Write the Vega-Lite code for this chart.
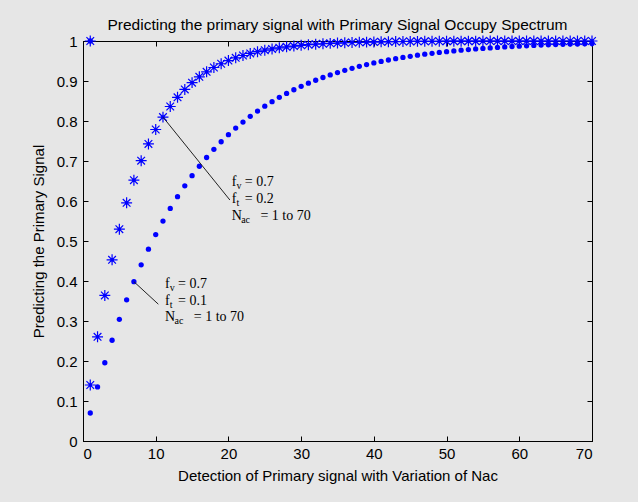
{
  "$schema": "https://vega.github.io/schema/vega-lite/v6.json",
  "width": 509,
  "height": 400,
  "autosize": {"type": "none"},
  "padding": {"left": 83, "top": 41, "right": 46, "bottom": 61},
  "background": "#e6e6e6",
  "title": {"text": "Predicting the primary signal with Primary Signal Occupy Spectrum", "font": "Liberation Sans", "fontSize": 15.5, "fontWeight": "normal", "color": "#000000", "anchor": "middle", "offset": 0},
  "config": {
    "view": {"stroke": "#000000", "strokeWidth": 1, "fill": "#e6e6e6"},
    "axis": {"domainColor": "#000000", "tickColor": "#000000", "labelColor": "#000000", "titleColor": "#000000", "labelFont": "Liberation Sans", "titleFont": "Liberation Sans", "labelFontSize": 15, "titleFontSize": 15, "titleFontWeight": "normal", "grid": false, "tickSize": -5, "domainWidth": 1, "tickWidth": 1}
  },
  "datasets": {
    "star": [
      {"N": 1, "P": 1},
      {"N": 1, "P": 0.14}, {"N": 2, "P": 0.2604}, {"N": 3, "P": 0.3639}, {"N": 4, "P": 0.453}, {"N": 5, "P": 0.5296},
      {"N": 6, "P": 0.5954}, {"N": 7, "P": 0.6521}, {"N": 8, "P": 0.7008}, {"N": 9, "P": 0.7427}, {"N": 10, "P": 0.7787},
      {"N": 11, "P": 0.8097}, {"N": 12, "P": 0.8363}, {"N": 13, "P": 0.8592}, {"N": 14, "P": 0.8789}, {"N": 15, "P": 0.8959},
      {"N": 16, "P": 0.9105}, {"N": 17, "P": 0.923}, {"N": 18, "P": 0.9338}, {"N": 19, "P": 0.9431}, {"N": 20, "P": 0.951},
      {"N": 21, "P": 0.9579}, {"N": 22, "P": 0.9638}, {"N": 23, "P": 0.9689}, {"N": 24, "P": 0.9732}, {"N": 25, "P": 0.977},
      {"N": 26, "P": 0.9802}, {"N": 27, "P": 0.983}, {"N": 28, "P": 0.9853}, {"N": 29, "P": 0.9874}, {"N": 30, "P": 0.9892},
      {"N": 31, "P": 0.9907}, {"N": 32, "P": 0.992}, {"N": 33, "P": 0.9931}, {"N": 34, "P": 0.9941}, {"N": 35, "P": 0.9949},
      {"N": 36, "P": 0.9956}, {"N": 37, "P": 0.9962}, {"N": 38, "P": 0.9968}, {"N": 39, "P": 0.9972}, {"N": 40, "P": 0.9976},
      {"N": 41, "P": 0.998}, {"N": 42, "P": 0.9983}, {"N": 43, "P": 0.9985}, {"N": 44, "P": 0.9987}, {"N": 45, "P": 0.9989},
      {"N": 46, "P": 0.9991}, {"N": 47, "P": 0.9992}, {"N": 48, "P": 0.9993}, {"N": 49, "P": 0.9994}, {"N": 50, "P": 0.9995},
      {"N": 51, "P": 0.9995}, {"N": 52, "P": 0.9996}, {"N": 53, "P": 0.9997}, {"N": 54, "P": 0.9997}, {"N": 55, "P": 0.9998},
      {"N": 56, "P": 0.9998}, {"N": 57, "P": 0.9998}, {"N": 58, "P": 0.9998}, {"N": 59, "P": 0.9999}, {"N": 60, "P": 0.9999},
      {"N": 61, "P": 0.9999}, {"N": 62, "P": 0.9999}, {"N": 63, "P": 0.9999}, {"N": 64, "P": 0.9999}, {"N": 65, "P": 1},
      {"N": 66, "P": 1}, {"N": 67, "P": 1}, {"N": 68, "P": 1}, {"N": 69, "P": 1}, {"N": 70, "P": 1}
    ],
    "dot": [
      {"N": 1, "P": 1},
      {"N": 1, "P": 0.07}, {"N": 2, "P": 0.1351}, {"N": 3, "P": 0.1956}, {"N": 4, "P": 0.2519}, {"N": 5, "P": 0.3043},
      {"N": 6, "P": 0.353}, {"N": 7, "P": 0.3983}, {"N": 8, "P": 0.4404}, {"N": 9, "P": 0.4796}, {"N": 10, "P": 0.516},
      {"N": 11, "P": 0.5499}, {"N": 12, "P": 0.5814}, {"N": 13, "P": 0.6107}, {"N": 14, "P": 0.638}, {"N": 15, "P": 0.6633},
      {"N": 16, "P": 0.6869}, {"N": 17, "P": 0.7088}, {"N": 18, "P": 0.7292}, {"N": 19, "P": 0.7481}, {"N": 20, "P": 0.7658},
      {"N": 21, "P": 0.7822}, {"N": 22, "P": 0.7974}, {"N": 23, "P": 0.8116}, {"N": 24, "P": 0.8248}, {"N": 25, "P": 0.837},
      {"N": 26, "P": 0.8484}, {"N": 27, "P": 0.8591}, {"N": 28, "P": 0.8689}, {"N": 29, "P": 0.8781}, {"N": 30, "P": 0.8866},
      {"N": 31, "P": 0.8946}, {"N": 32, "P": 0.9019}, {"N": 33, "P": 0.9088}, {"N": 34, "P": 0.9152}, {"N": 35, "P": 0.9211},
      {"N": 36, "P": 0.9267}, {"N": 37, "P": 0.9318}, {"N": 38, "P": 0.9366}, {"N": 39, "P": 0.941}, {"N": 40, "P": 0.9451},
      {"N": 41, "P": 0.949}, {"N": 42, "P": 0.9525}, {"N": 43, "P": 0.9559}, {"N": 44, "P": 0.959}, {"N": 45, "P": 0.9618},
      {"N": 46, "P": 0.9645}, {"N": 47, "P": 0.967}, {"N": 48, "P": 0.9693}, {"N": 49, "P": 0.9714}, {"N": 50, "P": 0.9734},
      {"N": 51, "P": 0.9753}, {"N": 52, "P": 0.977}, {"N": 53, "P": 0.9786}, {"N": 54, "P": 0.9801}, {"N": 55, "P": 0.9815},
      {"N": 56, "P": 0.9828}, {"N": 57, "P": 0.984}, {"N": 58, "P": 0.9851}, {"N": 59, "P": 0.9862}, {"N": 60, "P": 0.9871},
      {"N": 61, "P": 0.988}, {"N": 62, "P": 0.9889}, {"N": 63, "P": 0.9897}, {"N": 64, "P": 0.9904}, {"N": 65, "P": 0.9911},
      {"N": 66, "P": 0.9917}, {"N": 67, "P": 0.9923}, {"N": 68, "P": 0.9928}, {"N": 69, "P": 0.9933}, {"N": 70, "P": 0.9938}
    ],
    "leaders": [
      {"x": 11, "y": 0.8097, "x2": 20.2, "y2": 0.6025},
      {"x": 7, "y": 0.3983, "x2": 10.36, "y2": 0.342}
    ],
    "labels": [
      {"x": 20.45, "y": 0.6375, "t": "f"},
      {"x": 22.25, "y": 0.6375, "t": "= 0.7"},
      {"x": 20.45, "y": 0.595, "t": "f"},
      {"x": 22.25, "y": 0.595, "t": "= 0.2"},
      {"x": 20.45, "y": 0.5525, "t": "N"},
      {"x": 24.4, "y": 0.5525, "t": "= 1 to 70"},
      {"x": 11.28, "y": 0.3825, "t": "f"},
      {"x": 13.08, "y": 0.3825, "t": "= 0.7"},
      {"x": 11.28, "y": 0.34, "t": "f"},
      {"x": 13.08, "y": 0.34, "t": "= 0.1"},
      {"x": 11.28, "y": 0.2988, "t": "N"},
      {"x": 15.23, "y": 0.2988, "t": "= 1 to 70"}
    ],
    "subs": [
      {"x": 21.1, "y": 0.6375, "t": "v"},
      {"x": 21.1, "y": 0.595, "t": "t"},
      {"x": 21.75, "y": 0.5525, "t": "ac"},
      {"x": 11.93, "y": 0.3825, "t": "v"},
      {"x": 11.93, "y": 0.34, "t": "t"},
      {"x": 12.58, "y": 0.2988, "t": "ac"}
    ]
  },
  "layer": [
    {
      "data": {"name": "dot"},
      "mark": {"type": "point", "shape": "circle", "filled": true, "size": 28, "color": "#0000ff", "opacity": 1},
      "encoding": {
        "x": {"field": "N", "type": "quantitative", "scale": {"domain": [0, 70], "nice": false}, "axis": {"orient": "bottom", "values": [0, 10, 20, 30, 40, 50, 60, 70], "title": "Detection of Primary signal with Variation of Nac", "labelPadding": 10, "titlePadding": 7}},
        "y": {"field": "P", "type": "quantitative", "scale": {"domain": [0, 1], "nice": false}, "axis": {"orient": "left", "values": [0, 0.1, 0.2, 0.3, 0.4, 0.5, 0.6, 0.7, 0.8, 0.9, 1], "format": "~g", "title": "Predicting the Primary Signal", "labelPadding": 11, "titlePadding": 10}}
      }
    },
    {
      "data": {"name": "star"},
      "mark": {"type": "point", "shape": "M-1,0L1,0M0,-1L0,1M-0.7,-0.7L0.7,0.7M-0.7,0.7L0.7,-0.7", "filled": false, "size": 120, "stroke": "#0000ff", "strokeWidth": 1.2, "opacity": 1},
      "encoding": {
        "x": {"field": "N", "type": "quantitative", "scale": {"domain": [0, 70], "nice": false}, "axis": null},
        "y": {"field": "P", "type": "quantitative", "scale": {"domain": [0, 1], "nice": false}, "axis": null}
      }
    },
    {
      "data": {"name": "star"},
      "mark": {"type": "point", "shape": "circle", "filled": true, "size": 12, "color": "#0000ff", "opacity": 1},
      "encoding": {
        "x": {"field": "N", "type": "quantitative", "scale": {"domain": [0, 70], "nice": false}, "axis": null},
        "y": {"field": "P", "type": "quantitative", "scale": {"domain": [0, 1], "nice": false}, "axis": null}
      }
    },
    {
      "data": {"name": "leaders"},
      "mark": {"type": "rule", "color": "#222222", "strokeWidth": 1},
      "encoding": {
        "x": {"field": "x", "type": "quantitative", "scale": {"domain": [0, 70], "nice": false}, "axis": {"orient": "top", "values": [0, 10, 20, 30, 40, 50, 60, 70], "labels": false, "title": null}},
        "y": {"field": "y", "type": "quantitative", "scale": {"domain": [0, 1], "nice": false}, "axis": {"orient": "right", "values": [0, 0.1, 0.2, 0.3, 0.4, 0.5, 0.6, 0.7, 0.8, 0.9, 1], "labels": false, "title": null}},
        "x2": {"field": "x2"},
        "y2": {"field": "y2"}
      }
    },
    {
      "data": {"name": "labels"},
      "mark": {"type": "text", "font": "Liberation Serif", "fontSize": 14, "align": "left", "baseline": "alphabetic", "color": "#000000"},
      "encoding": {
        "x": {"field": "x", "type": "quantitative", "scale": {"domain": [0, 70], "nice": false}, "axis": null},
        "y": {"field": "y", "type": "quantitative", "scale": {"domain": [0, 1], "nice": false}, "axis": null},
        "text": {"field": "t"}
      }
    },
    {
      "data": {"name": "subs"},
      "mark": {"type": "text", "font": "Liberation Serif", "fontSize": 10, "align": "left", "baseline": "alphabetic", "dy": 3, "color": "#000000"},
      "encoding": {
        "x": {"field": "x", "type": "quantitative", "scale": {"domain": [0, 70], "nice": false}, "axis": null},
        "y": {"field": "y", "type": "quantitative", "scale": {"domain": [0, 1], "nice": false}, "axis": null},
        "text": {"field": "t"}
      }
    }
  ],
  "resolve": {"scale": {"x": "independent", "y": "independent"}}
}
